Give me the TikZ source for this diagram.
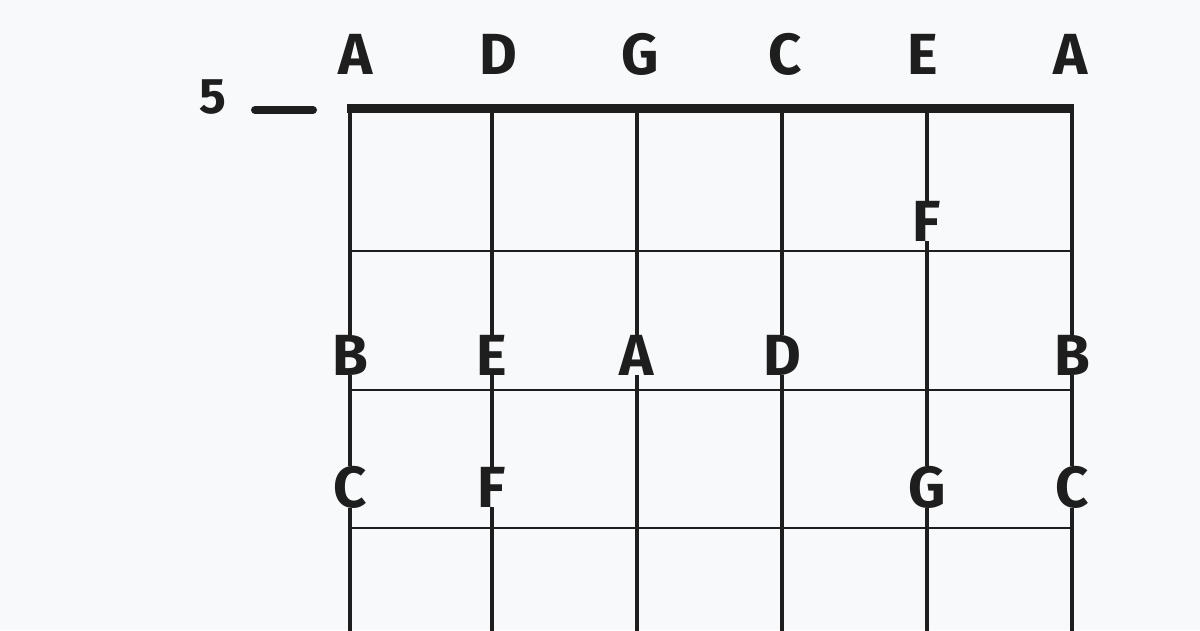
\documentclass[tikz,border=0pt]{standalone}
\usepackage{fontspec}
\setmainfont{Fira Sans}
\definecolor{bg}{HTML}{F8F9FA}
\definecolor{ink}{HTML}{1E1E1E}
\begin{document}
\begin{tikzpicture}[x=1pt,y=-1pt,
  toplabel/.style={anchor=base,inner sep=0pt,text=ink,font=\fontsize{58}{58}\selectfont\bfseries},
  note/.style={anchor=base,inner sep=0pt,outer sep=0pt,text=ink,fill=bg,font=\fontsize{58}{58}\selectfont\bfseries},
  stringline/.style={draw=ink,line width=4pt},
  fretline/.style={draw=ink,line width=2.8pt},
  nutline/.style={draw=ink,line width=9.5pt}]
\fill[bg] (0,0) rectangle (1200,630);
\useasboundingbox (0,0) rectangle (1200,630);
% strings
\foreach \n/\x in {s1/350,s2/492,s3/637,s4/782,s5/927,s6/1072}{
  \coordinate (\n t) at (\x,108);
  \coordinate (\n b) at (\x,632);
  \draw[stringline] (\n t) -- (\n b);
}
% frets
\foreach \n/\y in {f1/251,f2/390,f3/528}{
  \coordinate (\n l) at (350,\y);
  \coordinate (\n r) at (1072,\y);
  \draw[fretline] (\n l) -- (\n r);
}
% nut
\coordinate (nl) at (347,108.5);
\coordinate (nr) at (1074,108.5);
\draw[nutline] (nl) -- (nr);
% fret number
\node[anchor=base,inner sep=0pt,text=ink,font=\fontsize{50}{50}\selectfont\bfseries] (five) at (213,113) {5};
\coordinate (dl) at (255,110);
\coordinate (dr) at (313,110);
\draw[draw=ink,line width=8pt,line cap=round] (dl) -- (dr);
% open string labels
\node[toplabel] (t1) at (355.5,74) {A};
\node[toplabel] (t2) at (498,74) {D};
\node[toplabel] (t3) at (640,74) {G};
\node[toplabel] (t4) at (785,74) {C};
\node[toplabel] (t5) at (923,74) {E};
\node[toplabel] (t6) at (1070.5,74) {A};
% notes
\node[note] (n1) at (927,241) {F};
\node[note] (n2) at (350,375) {B};
\node[note] (n3) at (492,375) {E};
\node[note] (n4) at (637,375) {A};
\node[note] (n5) at (782,375) {D};
\node[note] (n6) at (1072,375) {B};
\node[note] (n7) at (350,507) {C};
\node[note] (n8) at (492,507) {F};
\node[note] (n9) at (927,507) {G};
\node[note] (n10) at (1072,507) {C};
\end{tikzpicture}
\end{document}
